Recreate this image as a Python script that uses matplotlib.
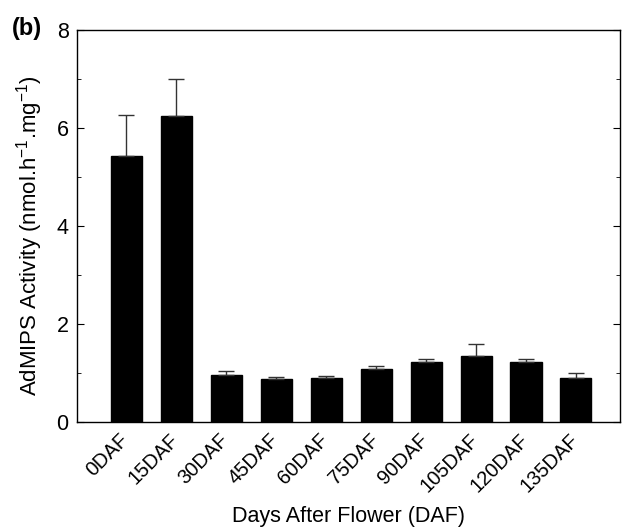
import matplotlib
matplotlib.use('Agg')
import matplotlib.pyplot as plt
from matplotlib.ticker import MultipleLocator
from matplotlib.transforms import ScaledTranslation

plt.rcParams['font.family'] = ['Liberation Sans', 'DejaVu Sans']

stages = ['0DAF', '15DAF', '30DAF', '45DAF', '60DAF', '75DAF', '90DAF', '105DAF', '120DAF', '135DAF']
activity = [5.43, 6.24, 0.97, 0.89, 0.90, 1.08, 1.23, 1.36, 1.22, 0.90]
err_up = [0.84, 0.77, 0.08, 0.04, 0.04, 0.06, 0.06, 0.23, 0.08, 0.10]

fig = plt.figure(figsize=(6.22, 5.29), dpi=100)
ax = fig.add_axes([77/622, 1 - 422.3/529, 543/622, (422.3 - 30)/529])

x = list(range(len(stages)))
ax.bar(x, activity, width=0.62, color='black', edgecolor='black',
       yerr=[[0] * len(err_up), err_up], capsize=6,
       error_kw=dict(ecolor='#333333', elinewidth=1, capthick=1))

ax.set_xlim(-0.98, 9.88)
ax.set_ylim(0, 8)
ax.yaxis.set_major_locator(MultipleLocator(2))
ax.yaxis.set_minor_locator(MultipleLocator(1))
ax.tick_params(axis='y', which='both', direction='in', right=True, labelsize=15.5, pad=6)
ax.tick_params(axis='y', which='major', length=5)
ax.tick_params(axis='y', which='minor', length=3)
ax.tick_params(axis='x', length=0, labelsize=14.5, pad=6)
ax.set_xticks(x)
ax.set_xticklabels(stages, rotation=45, ha='right', rotation_mode='anchor')
# nudge rotated labels left so their right end sits under the bar centre
shift = ScaledTranslation(-7/100, 0, fig.dpi_scale_trans)
for lbl in ax.get_xticklabels():
    lbl.set_transform(lbl.get_transform() + shift)

ax.set_xlabel('Days After Flower (DAF)', fontsize=15.5, labelpad=7)
ax.set_ylabel('AdMIPS Activity (nmol.h$^{\\mathregular{-1}}$.mg$^{\\mathregular{-1}}$)', fontsize=16)
ax.yaxis.set_label_coords(-0.059, 0.477)
for s in ax.spines.values():
    s.set_linewidth(1)

fig.text(12/622, 1 - 28/529, '(b)', fontsize=17, fontweight='bold', va='center')

fig.savefig('out.png', dpi=100)
